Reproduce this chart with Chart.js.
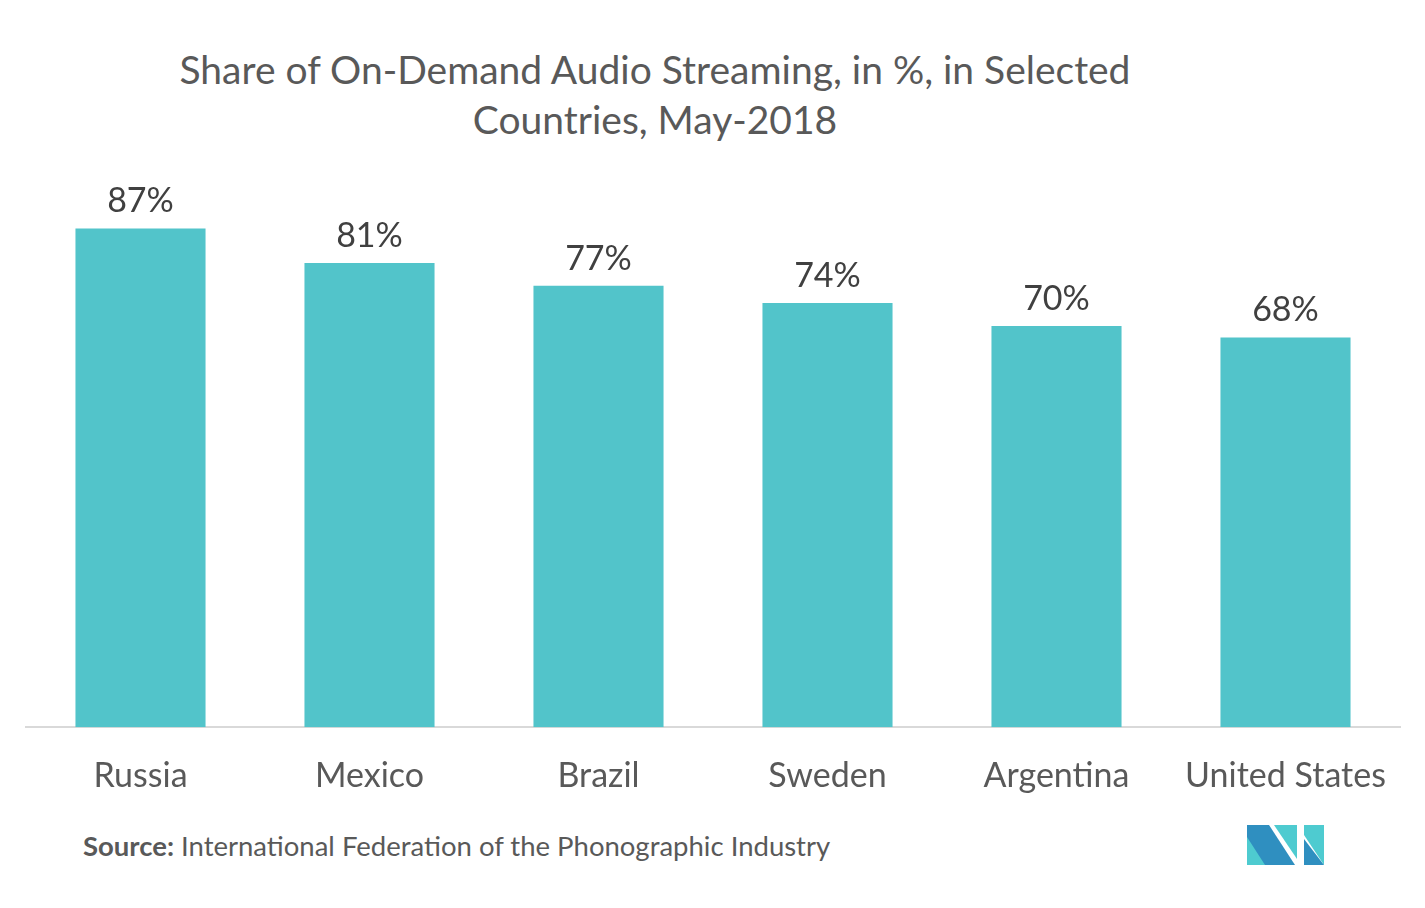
<!DOCTYPE html>
<html><head><meta charset="utf-8">
<script src="https://cdn.jsdelivr.net/npm/chart.js@4"></script>
<style>
html,body{margin:0;padding:0;background:#fff;}
body{width:1425px;height:908px;position:relative;overflow:hidden;font-family:Lato,"Noto Sans",sans-serif;}
#title{position:absolute;left:0;width:1310px;top:44px;text-align:center;font-size:39px;line-height:50px;color:#595959;}
#source{position:absolute;left:83px;top:829px;font-size:27.5px;color:#595959;}
#wrap{position:absolute;left:0;top:0;width:1425px;height:824px;}
#logo{position:absolute;left:1247px;top:825px;}
</style></head><body>
<div id="title">Share of On-Demand Audio Streaming, in %, in Selected<br>Countries, May-2018</div>
<div id="wrap"><canvas id="c"></canvas></div>
<div id="source"><b>Source:</b> International Federation of the Phonographic Industry</div>
<svg id="logo" width="78" height="42" viewBox="0 0 78 42">
<polygon points="0,0 22,0 48,40 0,40" fill="#2f8fc0"/>
<polygon points="0,12 18,40 0,40" fill="#4ecbd0"/>
<polygon points="27,0 50,0 50,34" fill="#4ecbd0"/>
<polygon points="57,0 77,0 77,40 57,10" fill="#4ecbd0"/>
<polygon points="57,14 77,40 57,40" fill="#2f8fc0"/>
</svg>
<script>
const categories = ["Russia","Mexico","Brazil","Sweden","Argentina","United States"];
const values = [87,81,77,74,70,68];
const valueLabels = values.map(v => v + "%");

const labelPlugin = {
  id: 'valueLabels',
  afterDatasetsDraw(chart) {
    const ctx = chart.ctx;
    const meta = chart.getDatasetMeta(0);
    ctx.save();
    ctx.font = '34px Lato, "Noto Sans", sans-serif';
    ctx.fillStyle = '#404040';
    ctx.textAlign = 'center';
    ctx.textBaseline = 'middle';
    meta.data.forEach((bar, i) => {
      ctx.fillText(valueLabels[i], bar.x, bar.y - 27);
    });
    ctx.restore();
  }
};

new Chart(document.getElementById('c'), {
  type: 'bar',
  data: { labels: categories, datasets: [{ data: values, backgroundColor: '#52c4ca', categoryPercentage: 1, barPercentage: 0.568 }] },
  options: {
    responsive: true, maintainAspectRatio: false, animation: false,
    layout: { padding: { left: 26, right: 25, top: 154, bottom: 0 } },
    plugins: { legend: { display: false }, tooltip: { enabled: false } },
    scales: {
      x: {
        grid: { display: false, drawTicks: false },
        border: { display: true, color: '#d9d9d9', width: 2 },
        ticks: { color: '#595959', font: { size: 34, family: 'Lato, "Noto Sans", sans-serif' }, padding: 28, maxRotation: 0 }
      },
      y: { display: false, min: 0, max: 100 }
    }
  },
  plugins: [labelPlugin]
});
</script>
</body></html>
